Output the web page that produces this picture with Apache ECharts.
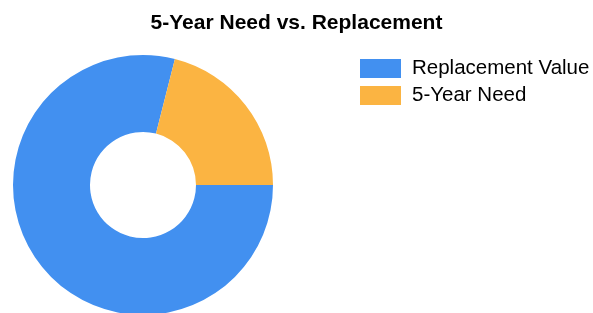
<!DOCTYPE html>
<html lang="en">
<head>
    <meta charset="UTF-8">
    <script src="https://cdn.jsdelivr.net/npm/echarts@6/dist/echarts.min.js"></script>
    <title>Need_vs_Replacement</title>
    <style>
        html, body { margin: 0; padding: 0; background: #fff; }
    </style>
</head>
<body>
    <div id="donut" style="width: 593px;height:313px;"></div>
    <script type="text/javascript">
        // slice names + values (ratio, ~79% / 21%)
        var categories = ['Replacement Value', '5-Year Need'];
        var values = [375, 100];
        var colors = ['#4290f0', '#fbb442'];

        var Chart_donut = echarts.init(document.getElementById('donut'));
        var pieData = categories.map(function (name, i) {
            return { name: name, value: values[i], itemStyle: { color: colors[i] } };
        });

        var option_donut = {
            animation: false,
            title: {
                text: '5-Year Need vs. Replacement',
                left: 'center',
                top: 8,
                textStyle: {
                    fontFamily: 'Liberation Sans',
                    fontWeight: 'bold',
                    fontSize: 21,
                    color: '#000'
                }
            },
            legend: {
                orient: 'vertical',
                left: 360,
                top: 58,
                padding: 0,
                icon: 'rect',
                itemWidth: 41,
                itemHeight: 19,
                itemGap: 6,
                textStyle: {
                    fontFamily: 'Liberation Sans',
                    fontSize: 20.5,
                    color: '#000',
                    padding: [0, 0, 0, 6]
                },
                data: categories
            },
            series: [
                {
                    type: 'pie',
                    center: [143, 185],
                    radius: [53, 130],
                    startAngle: 0,
                    clockwise: true,
                    label: { show: false },
                    labelLine: { show: false },
                    emphasis: { disabled: true },
                    data: pieData
                }
            ]
        };
        Chart_donut.setOption(option_donut);
    </script>
</body>
</html>
